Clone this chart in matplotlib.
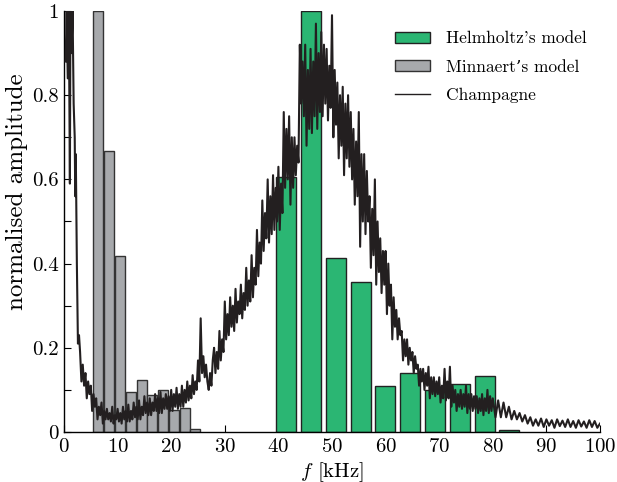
import numpy as np
import matplotlib
matplotlib.use('Agg')
import matplotlib.pyplot as plt

plt.rcParams['font.family'] = ['cmr10', 'DejaVu Serif']
plt.rcParams['mathtext.fontset'] = 'cm'
plt.rcParams['axes.unicode_minus'] = False
plt.rcParams['axes.formatter.use_mathtext'] = True

# Minnaert's model (grey bars)
minn_f = [6.4, 8.4, 10.4, 12.5, 14.5, 16.4, 18.5, 20.5, 22.6, 24.5]
minn_amp = [1.0, 0.667, 0.419, 0.096, 0.124, 0.088, 0.10, 0.052, 0.058, 0.007]

# Helmholtz's model (green bars)
helm_f = [41.5, 46.15, 50.75, 55.35, 59.95, 64.55, 69.15, 73.85, 78.5, 83.05]
helm_amp = [0.606, 1.0, 0.413, 0.356, 0.109, 0.141, 0.10, 0.113, 0.132, 0.005]

# Champagne spectrum, first 3 kHz read point by point
champ_f_low = [0.3, 0.5, 0.7, 0.9, 1.1, 1.2, 1.4, 1.6, 1.8, 1.9, 2.0, 2.1, 2.2, 2.4, 2.6, 2.8]
champ_amp_low = [0.88, 1.0, 0.84, 1.0, 0.59, 1.0, 0.9, 1.0, 0.78, 0.74, 0.70, 0.56, 0.66, 0.40, 0.21, 0.23]

# 3 to 79.75 kHz, every 0.25 kHz (one row per kHz)
champ_amp_mid = [
    0.19, 0.12, 0.16, 0.11,     # 3
    0.14, 0.08, 0.12, 0.09,
    0.11, 0.05, 0.09, 0.06,
    0.08, 0.03, 0.06, 0.04,
    0.07, 0.02, 0.05, 0.03,
    0.055, 0.03, 0.045, 0.025,  # 8
    0.06, 0.02, 0.04, 0.03,
    0.055, 0.025, 0.045, 0.02,
    0.06, 0.03, 0.05, 0.025,
    0.065, 0.025, 0.05, 0.03,
    0.07, 0.035, 0.06, 0.03,    # 13
    0.075, 0.03, 0.06, 0.04,
    0.085, 0.045, 0.07, 0.04,
    0.08, 0.04, 0.07, 0.05,
    0.09, 0.05, 0.08, 0.045,
    0.095, 0.045, 0.08, 0.055,  # 18
    0.09, 0.055, 0.085, 0.05,
    0.10, 0.05, 0.09, 0.06,
    0.105, 0.055, 0.09, 0.06,
    0.11, 0.06, 0.10, 0.07,
    0.12, 0.075, 0.11, 0.08,    # 23
    0.135, 0.09, 0.12, 0.10,
    0.17, 0.12, 0.27, 0.14,
    0.18, 0.13, 0.16, 0.12,
    0.10, 0.14, 0.11, 0.17,
    0.20, 0.14, 0.19, 0.15,     # 28
    0.24, 0.17, 0.22, 0.19,
    0.31, 0.22, 0.28, 0.23,
    0.32, 0.25, 0.30, 0.24,
    0.34, 0.26, 0.31, 0.28,
    0.35, 0.27, 0.33, 0.29,     # 33
    0.39, 0.30, 0.36, 0.31,
    0.42, 0.32, 0.39, 0.35,
    0.48, 0.37, 0.45, 0.40,
    0.55, 0.43, 0.52, 0.46,
    0.60, 0.45, 0.56, 0.47,     # 38
    0.61, 0.48, 0.58, 0.50,
    0.63, 0.48, 0.59, 0.52,
    0.76, 0.58, 0.72, 0.60,
    0.75, 0.54, 0.70, 0.58,
    0.70, 0.61, 0.68, 0.64,     # 43
    0.92, 0.78, 0.88, 0.75,
    0.92, 0.68, 0.86, 0.72,
    0.91, 0.71, 0.88, 0.75,
    0.97, 0.72, 0.90, 0.76,
    0.95, 0.75, 0.92, 0.78,     # 48
    0.91, 0.74, 0.87, 0.77,
    0.99, 0.70, 0.86, 0.73,
    0.83, 0.65, 0.80, 0.68,
    0.82, 0.61, 0.78, 0.65,
    0.80, 0.63, 0.76, 0.60,     # 53
    0.72, 0.54, 0.69, 0.56,
    0.76, 0.44, 0.66, 0.50,
    0.66, 0.47, 0.62, 0.50,
    0.56, 0.39, 0.53, 0.42,
    0.60, 0.35, 0.50, 0.38,     # 58
    0.46, 0.33, 0.43, 0.35,
    0.43, 0.28, 0.40, 0.30,
    0.35, 0.22, 0.32, 0.25,
    0.29, 0.22, 0.27, 0.23,
    0.24, 0.17, 0.22, 0.18,     # 63
    0.22, 0.16, 0.20, 0.17,
    0.19, 0.14, 0.18, 0.15,
    0.16, 0.11, 0.15, 0.12,
    0.15, 0.10, 0.14, 0.11,
    0.155, 0.08, 0.13, 0.09,    # 68
    0.13, 0.085, 0.12, 0.09,
    0.13, 0.07, 0.11, 0.08,
    0.15, 0.075, 0.12, 0.08,
    0.155, 0.06, 0.11, 0.07,
    0.10, 0.05, 0.09, 0.06,     # 73
    0.10, 0.055, 0.09, 0.06,
    0.11, 0.045, 0.09, 0.055,
    0.09, 0.05, 0.085, 0.055,
    0.085, 0.045, 0.08, 0.05,
    0.09, 0.04, 0.08, 0.05,     # 78
    0.10, 0.045, 0.085, 0.05,
]
champ_f_mid = np.arange(len(champ_amp_mid)) * 0.25 + 3.0

# 80 to 100 kHz, every 0.5 kHz
champ_amp_tail = [
    0.08, 0.035, 0.075, 0.035, 0.07, 0.035, 0.06, 0.03, 0.05, 0.03,
    0.045, 0.025, 0.04, 0.02, 0.035, 0.015, 0.03, 0.015, 0.032, 0.012,
    0.03, 0.015, 0.028, 0.01, 0.03, 0.014, 0.027, 0.012, 0.03, 0.012,
    0.026, 0.01, 0.028, 0.013, 0.025, 0.01, 0.028, 0.012, 0.026, 0.01,
    0.02,
]
champ_f_tail = np.arange(len(champ_amp_tail)) * 0.5 + 80.0

champ_f = np.concatenate([champ_f_low, champ_f_mid, champ_f_tail])
champ_amp = np.concatenate([champ_amp_low, champ_amp_mid, champ_amp_tail])

fig = plt.figure(figsize=(6.17, 4.82), dpi=100)
ax = fig.add_axes([64/617, 50/482, 536/617, 421/482])

h1 = ax.bar(helm_f, helm_amp, width=3.75, color='#2bb673', edgecolor='#222222', linewidth=1.0,
            label="Helmholtz's model", zorder=2)
h2 = ax.bar(minn_f, minn_amp, width=1.8, color='#a7a9ac', edgecolor='#333333', linewidth=1.0,
            label="Minnaert\u2019s model", zorder=2)
ax.plot(champ_f, champ_amp, color='#231f20', linewidth=1.5, zorder=3)
h3, = ax.plot([], [], color='#231f20', linewidth=1.0)

ax.set_xlim(0, 100)
ax.set_ylim(0, 1)
ax.set_xticks(np.arange(0, 101, 10))
ax.set_yticks([0, 0.2, 0.4, 0.6, 0.8, 1.0])
ax.set_yticklabels(['0', '0.2', '0.4', '0.6', '0.8', '1'])
ax.set_yticks(np.arange(0.1, 1.0, 0.2), minor=True)
ax.tick_params(direction='in', length=5, width=0.8, labelsize=15, pad=4)
ax.tick_params(which='minor', direction='in', length=5, width=0.8)
for s in ['top', 'right']:
    ax.spines[s].set_visible(False)
for s in ['left', 'bottom']:
    ax.spines[s].set_linewidth(1.0)

ax.set_xlabel(r'$f$ [kHz]', fontsize=15, labelpad=3)
ax.set_ylabel('normalised amplitude', fontsize=18)
ax.yaxis.set_label_coords(-0.068, 0.57)

ax.legend([h1, h2, h3], ["Helmholtz's model", "Minnaert\u2019s model", 'Champagne'],
          loc='upper left', bbox_to_anchor=(0.588, 0.99), frameon=False, fontsize=12.5,
          handlelength=2.0, handleheight=0.6, handletextpad=0.95, labelspacing=0.75)

fig.savefig('out.png', dpi=100)
